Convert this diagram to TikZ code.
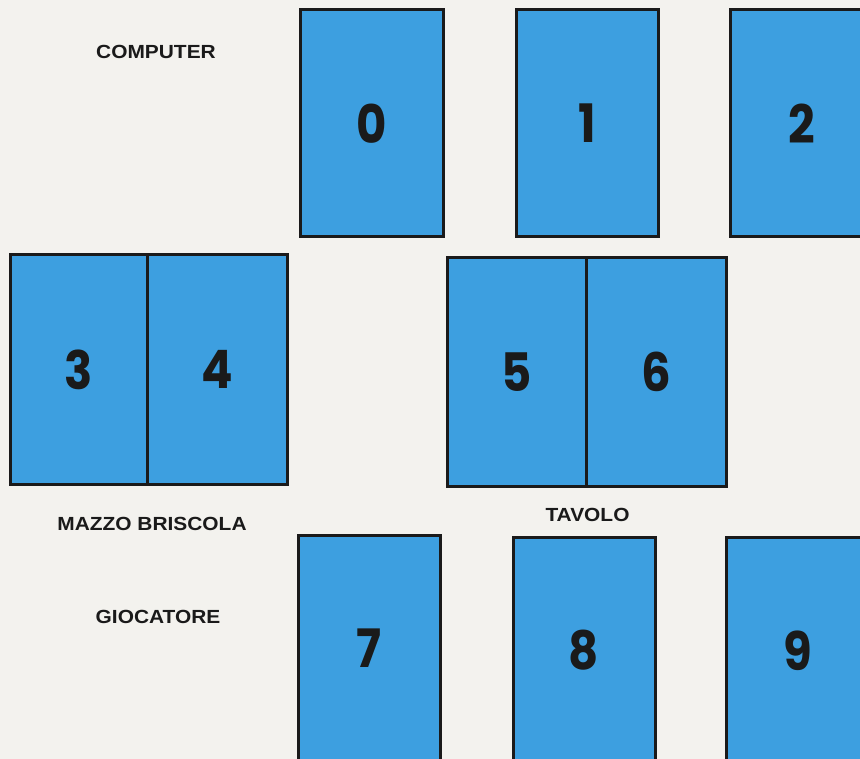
\documentclass[tikz,border=0pt]{standalone}
\usepackage{fontspec}
\setmainfont{Liberation Sans}
\newfontfamily\cardfont{Poppins}[FakeStretch=0.88]
\newfontfamily\labelfont{Liberation Sans}[FakeStretch=1.1]
\definecolor{cardblue}{HTML}{3D9FE0}
\definecolor{paper}{HTML}{F3F2EE}
\definecolor{ink}{HTML}{1A1A1A}

\tikzset{every picture/.style={line width=0.75pt}}
\tikzset{
  card/.style={draw=ink, line width=3pt, fill=cardblue, rectangle, inner sep=0pt,
    minimum width=143pt, minimum height=227pt,
    font=\cardfont\bfseries\fontsize{53}{53}\selectfont, text=ink},
  halfcard/.style={card, minimum height=229pt},
  caption/.style={font=\labelfont\bfseries\fontsize{19}{20}\selectfont, text=ink, inner sep=0pt}
}

\begin{document}
\begin{tikzpicture}[x=1pt,y=1pt,yscale=-1,xscale=1]
	% page
	\fill [paper] (0,0) rectangle (860,759);
	\useasboundingbox (0,0) rectangle (860,759);
	
	% Computer cards
	\node [card] (c0) at (371.5,123.5) {0};
	\node [card, minimum width=142pt] (c1) at (587,123.5) {1};
	\node [card] (c2) at (801.5,123.5) {2};
	
	% Mazzo briscola
	\node [halfcard, minimum width=137pt] (c3) at (78.5,369.5) {3};
	\node [halfcard, minimum width=140pt] (c4) at (217,369.5) {4};
	
	% Tavolo
	\node [halfcard, minimum width=139pt, minimum height=228pt] (c5) at (516.5,372) {5};
	\node [halfcard, minimum width=140pt, minimum height=228pt] (c6) at (656,372) {6};
	
	% Giocatore cards
	\node [card, minimum width=142pt] (c7) at (369,648.5) {7};
	\node [card, minimum width=142pt] (c8) at (584,650.5) {8};
	\node [card] (c9) at (797.5,650.5) {9};
	
	% Text Node
	\node [caption] (computer) at (156,52) {COMPUTER};
	% Text Node
	\node [caption] (mazzo) at (152,524) {MAZZO BRISCOLA};
	% Text Node
	\node [caption] (tavolo) at (c5.south east |- 0,515) {TAVOLO};
	% Text Node
	\node [caption] (giocatore) at (158,617) {GIOCATORE};
	
\end{tikzpicture}
\end{document}
